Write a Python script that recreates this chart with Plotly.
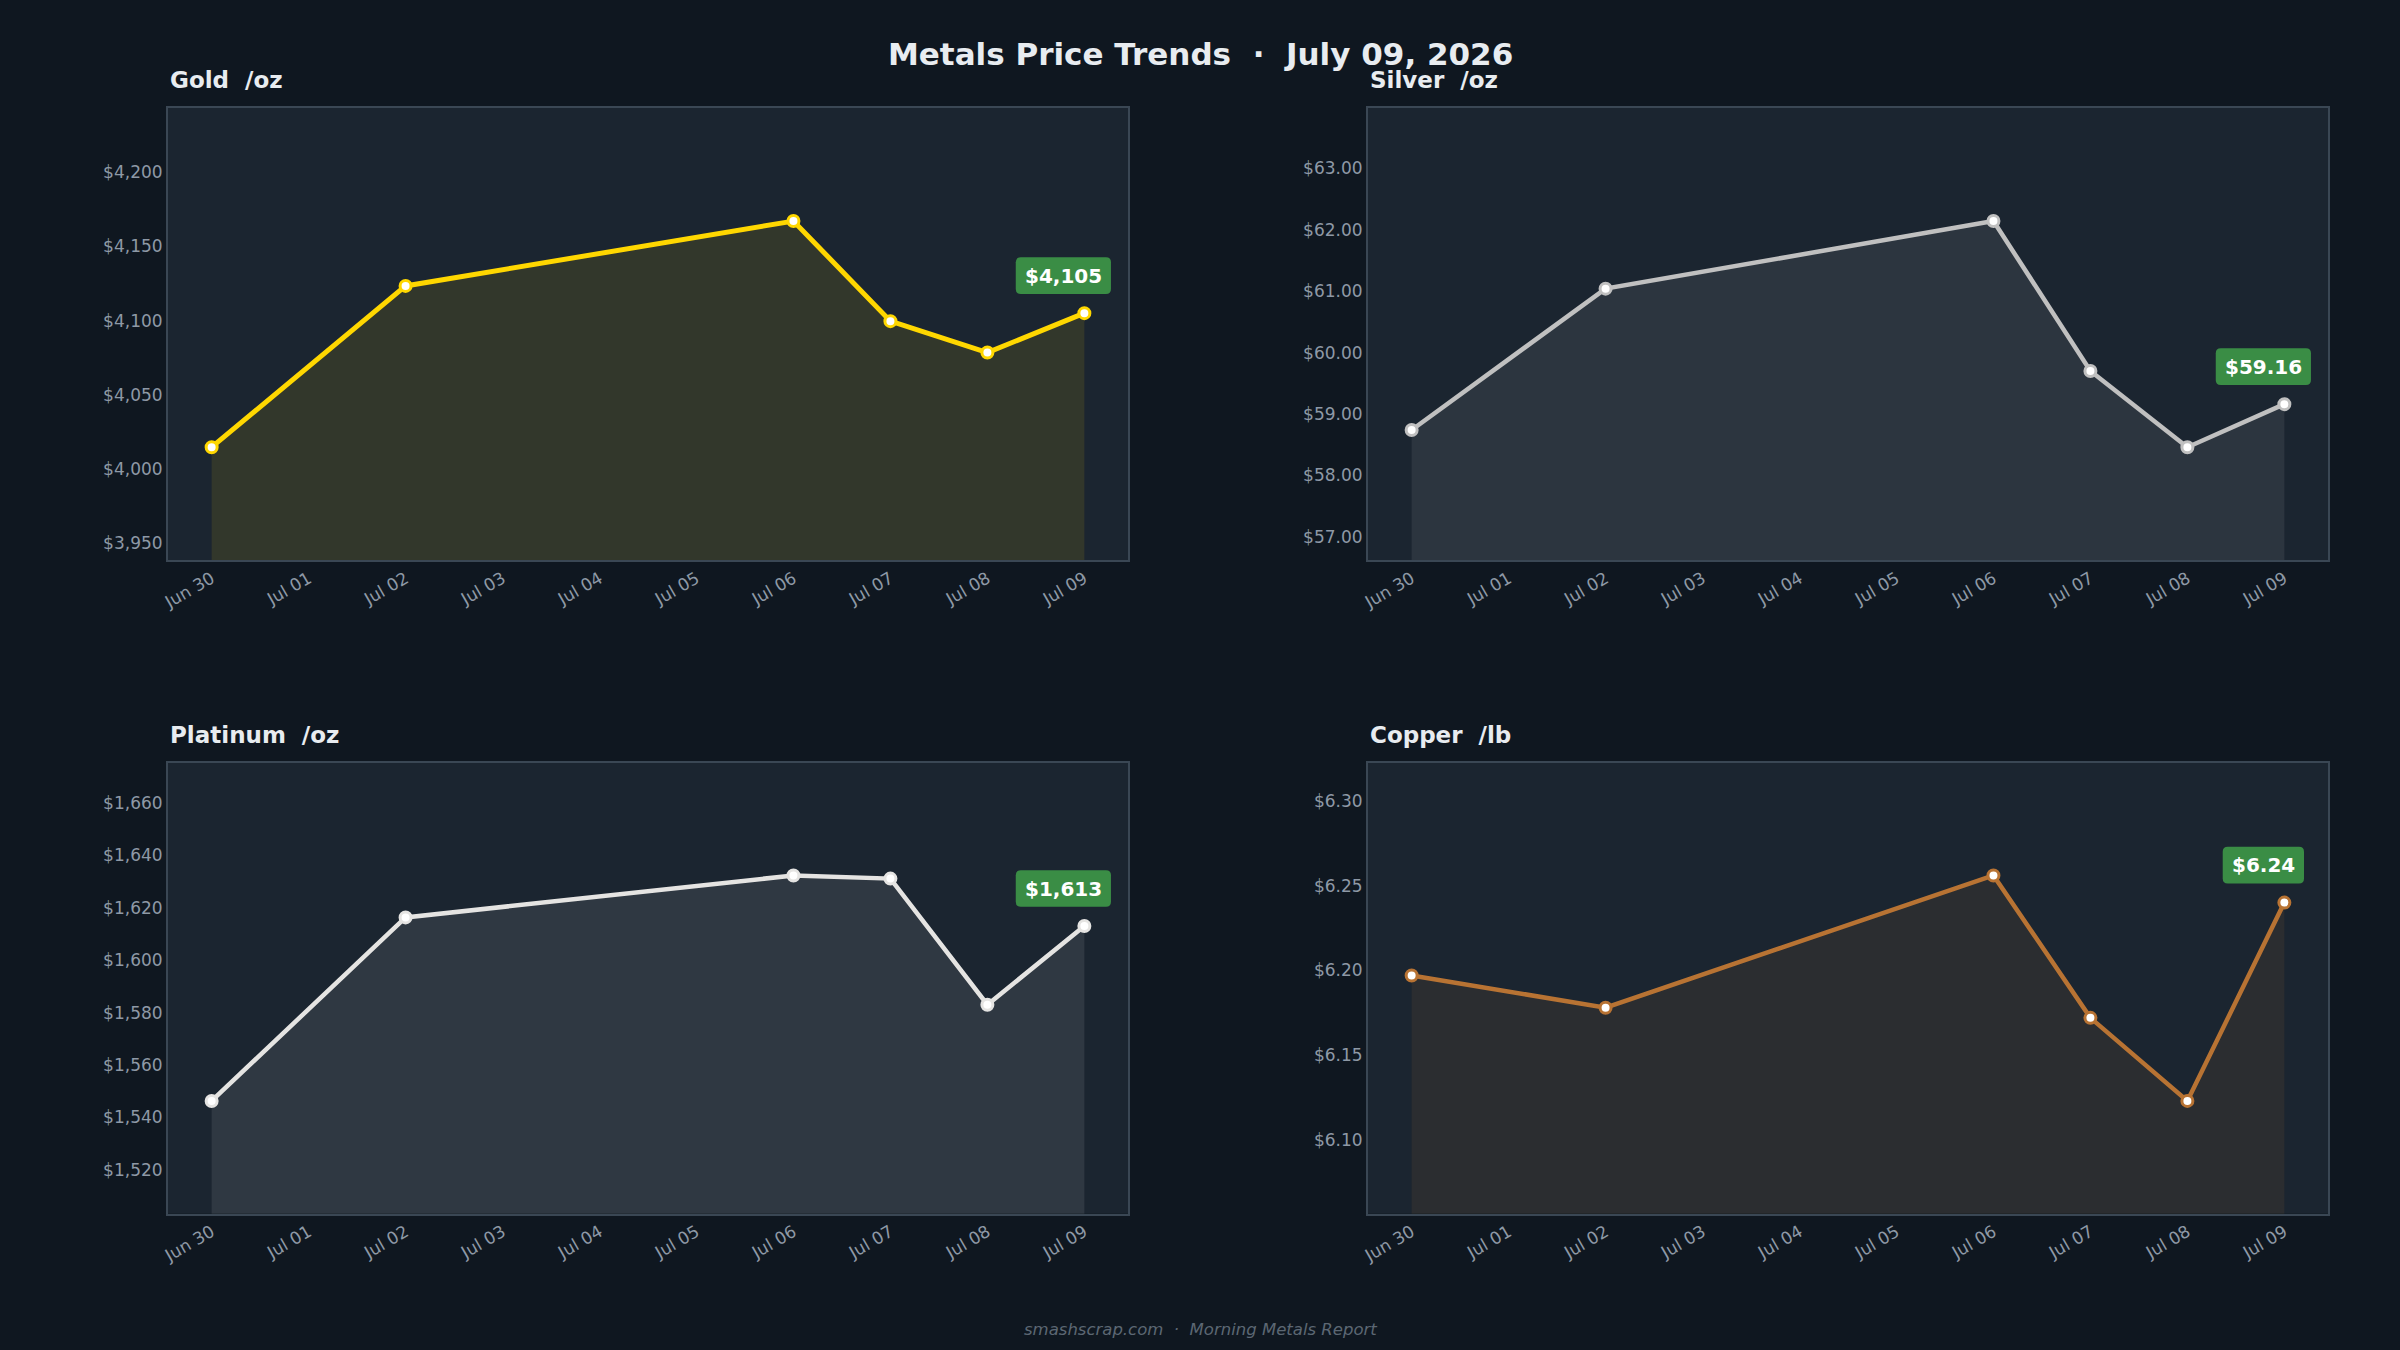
import plotly.graph_objects as go
import pandas as pd

dates = ["2026-06-30", "2026-07-02", "2026-07-06", "2026-07-07", "2026-07-08", "2026-07-09"]

gold = [4014.5, 4123.4, 4167.2, 4099.6, 4078.4, 4105.0]
silver = [58.74, 61.04, 62.14, 59.70, 58.46, 59.16]
platinum = [1546.3, 1616.3, 1632.3, 1631.1, 1583.0, 1613.0]
copper = [6.197, 6.178, 6.256, 6.172, 6.123, 6.240]

metals = ["Gold", "Silver", "Platinum", "Copper"]
units = ["/oz", "/oz", "/oz", "/lb"]
series = [gold, silver, platinum, copper]
line_colors = ["#FFD700", "#C0C0C0", "#E5E4E2", "#B87333"]
fill_colors = ["rgba(255,215,0,0.10)", "rgba(192,192,192,0.10)",
               "rgba(229,228,226,0.10)", "rgba(184,115,51,0.10)"]
line_widths = [5, 4.5, 4.5, 4.5]
tick_formats = [",.0f", ".2f", ",.0f", ".2f"]
badge_formats = ["${:,.0f}", "${:.2f}", "${:,.0f}", "${:.2f}"]
dticks = [50, 1, 20, 0.05]

title_text = "Metals Price Trends  ·  July 09, 2026"
footer_text = "smashscrap.com  ·  Morning Metals Report"

BG = "#0f1720"
PLOT_BG = "#1b2530"
BORDER = "#3a4754"
TICK = "#8e99a6"
BADGE = "#3a8d45"
FONT = "DejaVu Sans"

# approximate DejaVu Sans Bold advance widths (em) for badge sizing
BOLD_W = {",": 0.380, ".": 0.380}

x_domains = [[0.07, 0.47], [0.57, 0.97], [0.07, 0.47], [0.57, 0.97]]
y_domains = [[0.585, 0.92], [0.585, 0.92], [0.101, 0.435], [0.101, 0.435]]

dt = pd.to_datetime(dates)
span_days = (dt[-1] - dt[0])
xr = [dt[0] - span_days * 0.05, dt[-1] + span_days * 0.05]

fig = go.Figure()
layout = dict(
    width=2400, height=1350,
    paper_bgcolor=BG, plot_bgcolor=PLOT_BG,
    margin=dict(l=0, r=0, t=0, b=0),
    showlegend=False,
    font=dict(family=FONT, color=TICK),
)
annotations = []
shapes = []

BADGE_FS = 20
BADGE_DX, BADGE_DY = -21, 37.5
BADGE_H, BADGE_R = 36.6, 5

for i, (name, unit, vals) in enumerate(zip(metals, units, series)):
    ax = "" if i == 0 else str(i + 1)
    fig.add_trace(go.Scatter(
        x=dt, y=vals, xaxis="x" + ax, yaxis="y" + ax,
        mode="lines+markers", fill="tozeroy", fillcolor=fill_colors[i],
        line=dict(color=line_colors[i], width=line_widths[i]),
        marker=dict(size=11, color="white", line=dict(color=line_colors[i], width=3)),
        hoverinfo="skip",
    ))
    vmin, vmax = min(vals), max(vals)
    pad = (vmax - vmin) * 0.5
    layout["xaxis" + ax] = dict(
        domain=x_domains[i], anchor="y" + ax, type="date", range=xr,
        tickformat="%b %d", dtick=86400000, tick0=dates[0], tickangle=-30,
        showgrid=False, zeroline=False, showline=True, mirror=True,
        linecolor=BORDER, linewidth=2, ticks="",
        tickfont=dict(family=FONT, size=17, color=TICK), automargin=False,
    )
    layout["yaxis" + ax] = dict(
        domain=y_domains[i], anchor="x" + ax, range=[vmin - pad, vmax + pad],
        tickprefix="$", tickformat=tick_formats[i], dtick=dticks[i],
        showgrid=False, zeroline=False, showline=True, mirror=True,
        linecolor=BORDER, linewidth=2, ticks="",
        tickfont=dict(family=FONT, size=17, color=TICK), automargin=False,
    )
    annotations.append(dict(
        text="<b>" + name + "  " + unit + "</b>", xref="paper", yref="paper",
        x=x_domains[i][0], y=y_domains[i][1], xanchor="left", yanchor="middle",
        yshift=28, showarrow=False,
        font=dict(family=FONT, size=23, color="#e8ecf0"),
    ))
    label = badge_formats[i].format(vals[-1])
    w_em = sum(BOLD_W.get(c, 0.696) for c in label)
    bw = w_em * BADGE_FS + 18
    x0, x1 = BADGE_DX - bw / 2, BADGE_DX + bw / 2
    y0, y1 = BADGE_DY - BADGE_H / 2, BADGE_DY + BADGE_H / 2
    r = BADGE_R
    path = (f"M {x0 + r},{y0} L {x1 - r},{y0} Q {x1},{y0} {x1},{y0 + r} "
            f"L {x1},{y1 - r} Q {x1},{y1} {x1 - r},{y1} L {x0 + r},{y1} "
            f"Q {x0},{y1} {x0},{y1 - r} L {x0},{y0 + r} Q {x0},{y0} {x0 + r},{y0} Z")
    shapes.append(dict(
        type="path", xref="x" + ax, yref="y" + ax,
        xsizemode="pixel", ysizemode="pixel",
        xanchor=dates[-1], yanchor=vals[-1], path=path,
        fillcolor=BADGE, line=dict(width=0), layer="above",
    ))
    annotations.append(dict(
        text="<b>" + label + "</b>",
        x=dt[-1], y=vals[-1], xref="x" + ax, yref="y" + ax,
        xanchor="center", yanchor="middle", xshift=BADGE_DX, yshift=BADGE_DY,
        showarrow=False,
        font=dict(family=FONT, size=BADGE_FS, color="white"),
    ))

annotations.append(dict(
    text="<b>" + title_text + "</b>", xref="paper", yref="paper",
    x=0.5, y=1 - 54 / 1350, xanchor="center", yanchor="middle", showarrow=False,
    font=dict(family=FONT, size=31, color="#e8ecf0"),
))
annotations.append(dict(
    text="<i>" + footer_text + "</i>", xref="paper", yref="paper",
    x=0.5, y=1 - 1329 / 1350, xanchor="center", yanchor="middle", showarrow=False,
    font=dict(family=FONT, size=16.5, color="#5c6773"),
))
layout["annotations"] = annotations
layout["shapes"] = shapes
fig.update_layout(**layout)
fig.write_html("out.html")
